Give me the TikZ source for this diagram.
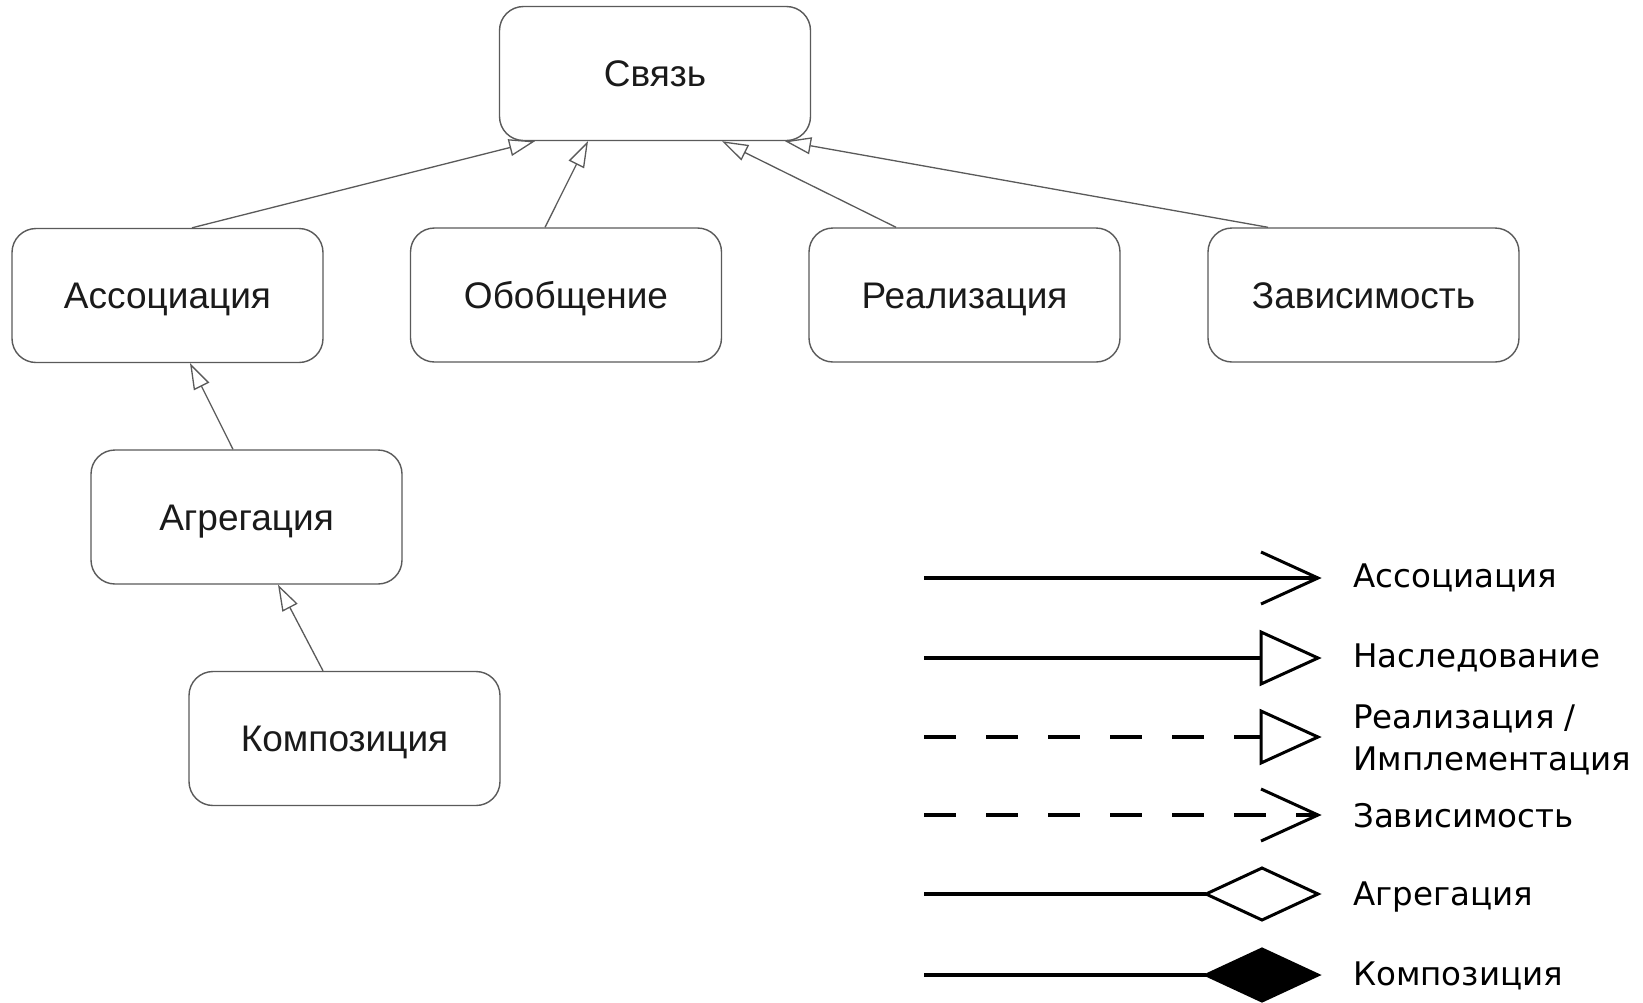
\documentclass[tikz,border=0pt]{standalone}
\usepackage{fontspec}
\setmainfont{Liberation Sans}
\newfontfamily\legfont{DejaVu Sans}
\usetikzlibrary{arrows.meta,calc}
\definecolor{boxgrey}{HTML}{5A5A5A}
\definecolor{textdark}{HTML}{1A1A1A}
\begin{document}
\begin{tikzpicture}[x=1pt,y=-1pt,
  box/.style={draw=boxgrey, line width=1.4pt, rounded corners=24pt,
    minimum width=311pt, minimum height=134pt, text height=26.5pt, text depth=0pt,
    inner sep=0pt, font=\fontsize{37}{42}\selectfont, text=textdark},
  genarrow/.style={draw=boxgrey, line width=1.3pt,
    -{Triangle[open, length=26pt, width=17pt, fill=white]}},
  leg/.style={line width=3.5pt, draw=black},
  legtext/.style={anchor=base west, inner sep=0pt, text=black,
    font=\legfont\fontsize{32.5}{42}\selectfont}]
\useasboundingbox (0,0) rectangle (1643,1002);
\fill[white] (0,0) rectangle (1643,1002);

% boxes
\node[box] (svyaz) at (655,73.5) {Связь};
\node[box] (assoc) at (167.5,295.5) {Ассоциация};
\node[box] (obob)  at (566,295) {Обобщение};
\node[box] (real)  at (964.5,295) {Реализация};
\node[box] (dep)   at (1363.5,295) {Зависимость};
\node[box] (aggr)  at (246.5,517) {Агрегация};
\node[box] (comp)  at (344.5,738.5) {Композиция};

% connectors
\draw[genarrow] ([xshift=24.5pt]assoc.north) -- ([xshift=-120pt]svyaz.south);
\draw[genarrow] ([xshift=-21pt]obob.north) -- ([xshift=-67pt]svyaz.south);
\draw[genarrow] ([xshift=-68.5pt]real.north) -- ([xshift=67pt]svyaz.south);
\draw[genarrow] ([xshift=-95.5pt]dep.north) -- ([xshift=130pt]svyaz.south);
\draw[genarrow] ([xshift=-13.5pt]aggr.north) -- ([xshift=22.5pt]assoc.south);
\draw[genarrow] ([xshift=-21.5pt]comp.north) -- ([xshift=31.5pt]aggr.south);

% legend coordinates
\coordinate (l1s) at (924,578); \coordinate (l1e) at (1318,578);
\coordinate (l2s) at (924,658); \coordinate (l2e) at (1318,658);
\coordinate (l3s) at (924,737); \coordinate (l3e) at (1318,737);
\coordinate (l4s) at (924,815); \coordinate (l4e) at (1318,815);
\coordinate (l5s) at (924,894); \coordinate (l5e) at (1318,894);
\coordinate (l6s) at (924,975); \coordinate (l6e) at (1318,975);

% association
\draw[leg] (l1s) -- (l1e);
\draw[leg, line width=3pt] ($(l1e)+(-57,-26)$) -- (l1e) -- ($(l1e)+(-57,26)$);
% inheritance
\draw[leg] (l2s) -- ($(l2e)+(-57,0)$);
\draw[leg, line width=3pt, fill=white] ($(l2e)+(-57,-26)$) -- (l2e) -- ($(l2e)+(-57,26)$) -- cycle;
% realization
\draw[leg, dash pattern=on 32pt off 30pt] (l3s) -- ($(l3e)+(-57,0)$);
\draw[leg, line width=3pt, fill=white] ($(l3e)+(-57,-26)$) -- (l3e) -- ($(l3e)+(-57,26)$) -- cycle;
% dependency
\draw[leg, dash pattern=on 32pt off 30pt] (l4s) -- (l4e);
\draw[leg, line width=3pt] ($(l4e)+(-57,-26)$) -- (l4e) -- ($(l4e)+(-57,26)$);
% aggregation
\draw[leg] (l5s) -- ($(l5e)+(-112,0)$);
\draw[leg, line width=3pt, fill=white] ($(l5e)+(-112,0)$) -- ($(l5e)+(-56,-26)$) -- (l5e) -- ($(l5e)+(-56,26)$) -- cycle;
% composition
\draw[leg] (l6s) -- ($(l6e)+(-112,0)$);
\draw[leg, line width=3pt, fill=black] ($(l6e)+(-112,0)$) -- ($(l6e)+(-56,-26)$) -- (l6e) -- ($(l6e)+(-56,26)$) -- cycle;

% legend texts
\node[legtext] (t1)  at (1353,587) {Ассоциация};
\node[legtext] (t2)  at (1353,667) {Наследование};
\node[legtext] (t3a) at (1353,728) {Реализация /};
\node[legtext] (t3b) at (1353,770) {Имплементация};
\node[legtext] (t4)  at (1353,827) {Зависимость};
\node[legtext] (t5)  at (1353,905) {Агрегация};
\node[legtext] (t6)  at (1353,985) {Композиция};
\end{tikzpicture}
\end{document}
